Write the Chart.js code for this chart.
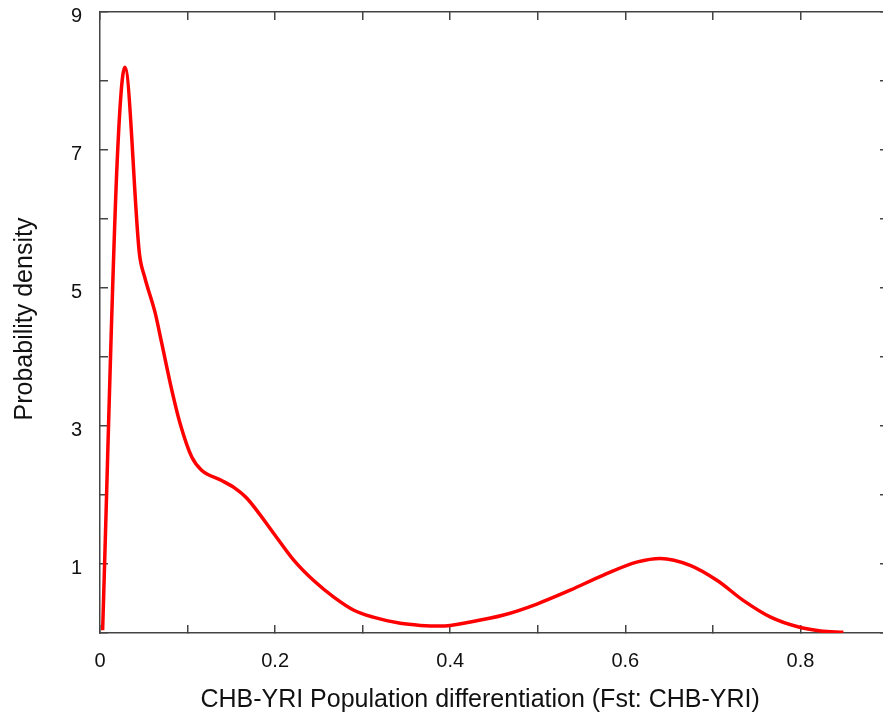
<!DOCTYPE html>
<html>
<head>
<meta charset="utf-8">
<script src="https://cdn.jsdelivr.net/npm/chart.js@4/dist/chart.umd.min.js"></script>
<style>
  html, body { margin: 0; padding: 0; background: #fff; overflow: hidden; }
</style>
</head>
<body>
<canvas id="chart" width="888" height="720"></canvas>
<script>
// density curve
const fstValues = [0.003, 0.0195, 0.0285, 0.045, 0.051, 0.063, 0.0705, 0.082, 0.0914, 0.1048,
    0.116, 0.139, 0.154, 0.168, 0.198, 0.221, 0.244, 0.267, 0.29,
    0.312, 0.343, 0.366, 0.389, 0.423, 0.461, 0.499, 0.537, 0.575, 0.614,
    0.64, 0.674, 0.705, 0.735, 0.766, 0.797, 0.823, 0.849];
const densityValues = [0.04, 6.8, 8.2, 5.5, 5.16, 4.64, 4.2, 3.52, 3.04, 2.55,
    2.36, 2.21, 2.1, 1.95, 1.45, 1.06, 0.76, 0.52, 0.33,
    0.23, 0.14, 0.11, 0.10, 0.16, 0.26, 0.42, 0.62, 0.84, 1.03,
    1.08, 0.98, 0.76, 0.47, 0.23, 0.09, 0.03, 0.01];

// axis ranges and which ticks get a label
const xRange = [0, 0.9];
const yRange = [0, 9];
const xLabelled = ['0', '0.2', '0.4', '0.6', '0.8'];
const yLabelled = ['1', '3', '5', '7', '9'];

const xTitle = 'CHB-YRI Population differentiation (Fst: CHB-YRI)';
const yTitle = 'Probability density';

const axisColor = '#444';
const tickFont = { family: 'Liberation Sans', size: 20 };
const titleFont = { family: 'Liberation Sans', size: 25 };

const points = fstValues.map((x, i) => ({ x: x, y: densityValues[i] }));

function fmt(v) {
    return String(Math.round(v * 10) / 10);
}

// inward tick marks, no gridlines
const frame = {
    drawOnChartArea: false,
    drawTicks: true,
    tickLength: -8,
    color: axisColor,
    lineWidth: 1.5
};
const border = { display: true, color: axisColor, width: 1.5 };

// the big tick paddings should not push the plot area around
function noPad(scale) {
    scale.paddingTop = 0;
    scale.paddingBottom = 0;
    scale.paddingLeft = 0;
    scale.paddingRight = 0;
}

const ctx = document.getElementById('chart').getContext('2d');
const myChart = new Chart(ctx, {
    type: 'line',
    data: {
        datasets: [{
            data: points,
            borderColor: '#ff0000',
            borderWidth: 3.5,
            pointRadius: 0,
            fill: false,
            cubicInterpolationMode: 'monotone'
        }]
    },
    options: {
        responsive: false,
        animation: false,
        layout: { padding: { top: 12, right: 0, bottom: 0, left: 0 } },
        plugins: {
            legend: { display: false },
            tooltip: { enabled: false }
        },
        scales: {
            x: {
                type: 'linear',
                position: 'bottom',
                min: xRange[0],
                max: xRange[1],
                grid: frame,
                border: border,
                ticks: {
                    stepSize: 0.1,
                    autoSkip: false,
                    maxRotation: 0,
                    padding: 24,
                    color: '#111',
                    font: tickFont,
                    callback: (v) => xLabelled.includes(fmt(v)) ? fmt(v) : ''
                },
                title: {
                    display: true,
                    text: xTitle + '    ',
                    color: '#111',
                    font: titleFont,
                    padding: { top: 0, bottom: 5 }
                },
                afterFit: (scale) => { scale.height = 87; noPad(scale); }
            },
            x2: {
                type: 'linear',
                position: 'top',
                min: xRange[0],
                max: xRange[1],
                grid: frame,
                border: border,
                ticks: { stepSize: 0.1, display: false },
                afterFit: (scale) => { scale.height = 0; noPad(scale); }
            },
            y: {
                position: 'left',
                min: yRange[0],
                max: yRange[1],
                grid: frame,
                border: border,
                ticks: {
                    stepSize: 1,
                    autoSkip: false,
                    padding: 26,
                    labelOffset: 4,
                    color: '#111',
                    font: tickFont,
                    callback: (v) => yLabelled.includes(String(v)) ? String(v) : ''
                },
                title: {
                    display: true,
                    text: ' ' + yTitle,
                    color: '#111',
                    font: titleFont,
                    padding: { top: 10, bottom: 0 }
                },
                afterFit: (scale) => { scale.width = 100; noPad(scale); }
            },
            y2: {
                position: 'right',
                min: yRange[0],
                max: yRange[1],
                grid: frame,
                border: border,
                ticks: { stepSize: 1, display: false },
                afterFit: (scale) => { scale.width = 0; noPad(scale); }
            }
        }
    }
});
</script>
</body>
</html>
